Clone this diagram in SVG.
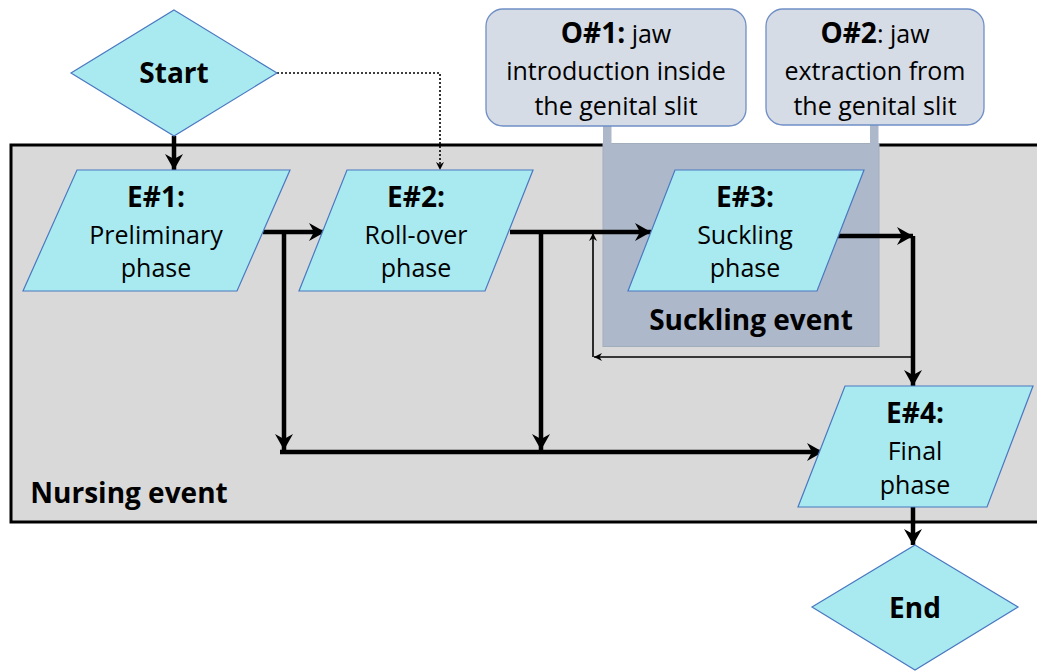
<svg xmlns="http://www.w3.org/2000/svg" width="1037" height="671" viewBox="0 0 1037 671">
<style>
.t{font-family:"Open Sans","Noto Sans",sans-serif;font-size:25px;fill:#000;text-anchor:middle}
.b{font-weight:bold;font-size:28px}
.shape{fill:#a9eaf0;stroke:#4a78c2;stroke-width:1.2}
.call{fill:#d6dce5;stroke:#6f8fc6;stroke-width:1.3}
.thick{fill:none;stroke:#000;stroke-width:4.5}
.thin{fill:none;stroke:#000;stroke-width:1.6}
.dot{fill:none;stroke:#000;stroke-width:1.6;stroke-dasharray:2 2}
</style>
<defs>
<marker id="ah" markerUnits="userSpaceOnUse" markerWidth="18" markerHeight="20" refX="16" refY="9" orient="auto">
<path d="M0,0 L16,9 L0,18 L5,9 Z" fill="#000"/>
</marker>
<marker id="as" markerUnits="userSpaceOnUse" markerWidth="10" markerHeight="10" refX="8" refY="4" orient="auto">
<path d="M0,0 L8,4 L0,8 L2.5,4 Z" fill="#000"/>
</marker>
</defs>
<g id="nursing-event">
<rect x="11" y="145" width="1040" height="377" fill="#d9d9d9" stroke="#000" stroke-width="3"/>
<text class="t b" x="129" y="503">Nursing event</text>
</g>
<g id="suckling-event">
<rect x="603" y="143.5" width="276" height="203" fill="#adb9ca" stroke="#a3aebd" stroke-width="1"/>
<text class="t b" x="751" y="330">Suckling event</text>
</g>
<g id="O1">
<rect x="603" y="120" width="8.5" height="26" fill="#adb9ca"/>
<rect x="486" y="9" width="260" height="117" rx="17" class="call"/>
<text class="t" x="616" y="43"><tspan font-weight="bold" font-size="28">O#1:</tspan> jaw</text>
<text class="t" x="616" y="80">introduction inside</text>
<text class="t" x="616" y="115">the genital slit</text>
</g>
<g id="O2">
<rect x="870" y="120" width="8.5" height="26" fill="#adb9ca"/>
<rect x="766" y="9" width="218" height="116" rx="17" class="call"/>
<text class="t" x="875" y="43"><tspan font-weight="bold" font-size="28">O#2</tspan>: jaw</text>
<text class="t" x="875" y="80">extraction from</text>
<text class="t" x="875" y="115">the genital slit</text>
</g>
<g id="connectors">
<path class="thick" d="M174,136 V170" marker-end="url(#ah)"/>
<path class="dot" d="M277,73 H440 V170" marker-end="url(#as)"/>
<path class="thick" d="M263,232 H325" marker-end="url(#ah)"/>
<path class="thick" d="M284,232 V450" marker-end="url(#ah)"/>
<path class="thick" d="M280,452 H823" marker-end="url(#ah)"/>
<path class="thick" d="M510,232 H651" marker-end="url(#ah)"/>
<path class="thick" d="M541,232 V450" marker-end="url(#ah)"/>
<path class="thick" d="M836,236 H913" marker-end="url(#ah)"/>
<path class="thick" d="M913,236 V386" marker-end="url(#ah)"/>
<path class="thin" d="M912,357 H594" marker-end="url(#as)"/>
<path class="thin" d="M593,357 V233" marker-end="url(#as)"/>
<path class="thick" d="M913,507 V545" marker-end="url(#ah)"/>
</g>
<g id="start">
<polygon class="shape" points="174,10 277,73 174,136 71,73"/>
<text class="t b" x="174" y="83">Start</text>
</g>
<g id="E1">
<polygon class="shape" points="77,170 290,170 237,291 23,291"/>
<text class="t b" x="156" y="207">E#1:</text>
<text class="t" x="156" y="244">Preliminary</text>
<text class="t" x="156" y="277">phase</text>
</g>
<g id="E2">
<polygon class="shape" points="347,170 533,170 485,291 299,291"/>
<text class="t b" x="416" y="207">E#2:</text>
<text class="t" x="416" y="244">Roll-over</text>
<text class="t" x="416" y="277">phase</text>
</g>
<g id="E3">
<polygon class="shape" points="675,170 864,170 817,291 628,291"/>
<text class="t b" x="745" y="207">E#3:</text>
<text class="t" x="745" y="244">Suckling</text>
<text class="t" x="745" y="277">phase</text>
</g>
<g id="E4">
<polygon class="shape" points="845,386 1033,386 987,507 798,507"/>
<text class="t b" x="915" y="423">E#4:</text>
<text class="t" x="915" y="460">Final</text>
<text class="t" x="915" y="494">phase</text>
</g>
<g id="end">
<polygon class="shape" points="915,545 1018,607 915,670 812,607"/>
<text class="t b" x="915" y="618">End</text>
</g>
</svg>
